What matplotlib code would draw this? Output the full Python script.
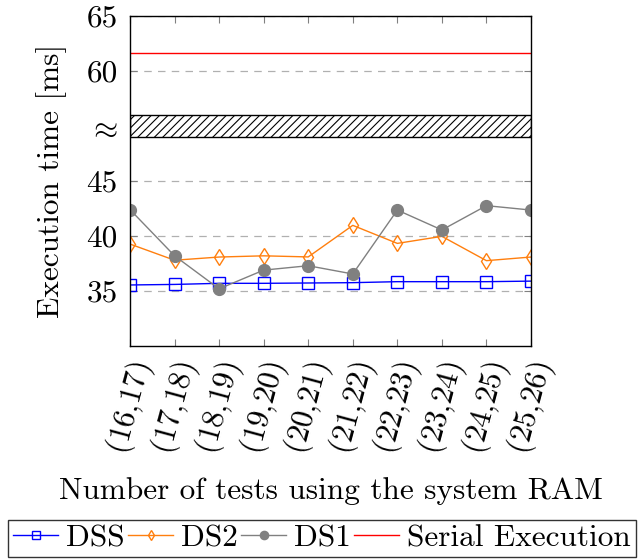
import numpy as np
import matplotlib
matplotlib.use("Agg")
import matplotlib.pyplot as plt

plt.rcParams['font.family'] = 'serif'
plt.rcParams['font.serif'] = ['cmr10']
plt.rcParams['mathtext.fontset'] = 'cm'
plt.rcParams['axes.formatter.use_mathtext'] = True
plt.rcParams['hatch.linewidth'] = 0.8

categories = ['(16,17)', '(17,18)', '(18,19)', '(19,20)', '(20,21)',
              '(21,22)', '(22,23)', '(23,24)', '(24,25)', '(25,26)']
dss = [35.55, 35.6, 35.7, 35.7, 35.73, 35.76, 35.85, 35.85, 35.85, 35.9]
ds2 = [39.27, 37.8, 38.09, 38.2, 38.1, 40.97, 39.33, 39.97, 37.76, 38.09]
ds1 = [42.4, 38.2, 35.2, 36.9, 37.3, 36.55, 42.36, 40.55, 42.76, 42.36]
serial = 61.65

# values below the axis break are drawn shifted up by this amount
shift = 5
ytick_pos = [40, 45, 50, 55, 60, 65]
ytick_lab = ['35', '40', '45', r'$\approx$', '60', '65']

fs = 22.5
x = np.arange(len(categories))
fig = plt.figure(figsize=(6.44, 5.6), dpi=100)
ax = fig.add_axes([0.2019, 0.3821, 0.6226, 0.5893])

l1, = ax.plot(x, np.array(dss) + shift, color='blue', lw=1.0, marker='s',
              ms=8.5, mfc='none', mec='blue', mew=1.0, label='DSS')
l2, = ax.plot(x, np.array(ds2) + shift, color='#ff7f0e', lw=1.0, marker='d',
              ms=8, mfc='none', mec='#ff7f0e', mew=1.0, label='DS2')
l3, = ax.plot(x, np.array(ds1) + shift, color='gray', lw=1.0, marker='o',
              ms=8.5, mfc='gray', mec='gray', label='DS1')
l4 = ax.axhline(serial, color='red', lw=1.0, label='Serial Execution')

ax.axhspan(54.0, 56.0, facecolor='white', edgecolor='black', hatch='////',
           lw=1.0, zorder=1)

ax.set_xlim(0, len(categories) - 1)
ax.set_ylim(35, 65)
ax.set_yticks(ytick_pos)
ax.set_yticklabels(ytick_lab)
ax.set_xticks(x)
ax.set_xticklabels(['$' + c.replace(',', '{,}') + '$' for c in categories],
                   rotation=75, ha='center', va='top')
ax.tick_params(axis='both', direction='in', color='gray', length=5,
               top=True, right=True, labelsize=fs)
ax.tick_params(axis='x', pad=8)
ax.tick_params(axis='y', pad=9)
for s in ax.spines.values():
    s.set_linewidth(1.0)
ax.yaxis.grid(True, linestyle=(0, (6, 5)), color='#b0b0b0', lw=0.9)
ax.set_axisbelow(True)

ax.set_ylabel('Execution time [ms]', fontsize=fs, labelpad=14)
ax.set_xlabel('Number of tests using the system RAM', fontsize=fs, labelpad=14)

fig.legend(handles=[l1, l2, l3, l4], loc='lower center', ncol=4,
           bbox_to_anchor=(0.5, 0.0), fontsize=fs, frameon=True,
           fancybox=False, edgecolor='black', handlelength=1.45,
           handletextpad=0.25, columnspacing=0.1, borderpad=0.15,
           borderaxespad=0.1, markerscale=0.7)

fig.savefig('out.png', dpi=100)
